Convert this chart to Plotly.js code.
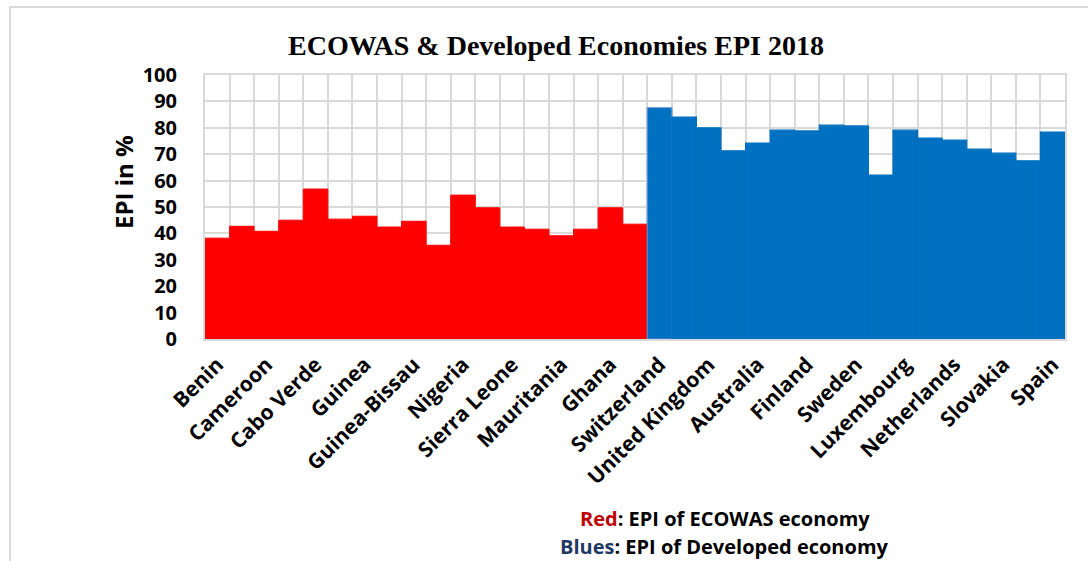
<!DOCTYPE html>
<html>
<head>
<meta charset="utf-8">
<script src="https://cdn.plot.ly/plotly-3.0.1.min.js"></script>
<style>
  html, body { margin: 0; padding: 0; background: #ffffff; }
  #wrap { position: relative; width: 1088px; height: 561px; overflow: hidden; }
  #chart { position: absolute; left: 0; top: 0; width: 1088px; height: 561px; }
  #frame { position: absolute; left: 9px; top: 6px; width: 1200px; height: 700px;
           border-top: 2px solid #d9d9d9; border-left: 2px solid #d9d9d9; pointer-events: none; }
</style>
</head>
<body>
<div id="wrap">
  <div id="chart"></div>
  <div id="frame"></div>
</div>
<script>
// ECOWAS economies (red) – tick labels appear on every other bar
const ecowasLabels = ["Benin", null, "Cameroon", null, "Cabo Verde", null, "Guinea", null,
  "Guinea-Bissau", null, "Nigeria", null, "Sierra Leone", null, "Mauritania", null, "Ghana", null];
const ecowasValues = [38.2, 42.7, 40.8, 45.0, 56.8, 45.4, 46.5, 42.4, 44.6, 35.5,
  54.5, 49.7, 42.4, 41.6, 39.1, 41.6, 49.7, 43.5];

// Developed economies (blue)
const developedLabels = ["Switzerland", null, "United Kingdom", null, "Australia", null, "Finland", null,
  "Sweden", null, "Luxembourg", null, "Netherlands", null, "Slovakia", null, "Spain"];
const developedValues = [87.6, 84.1, 80.0, 71.3, 74.2, 79.1, 78.8, 81.0, 80.7, 62.1,
  79.1, 76.1, 75.3, 71.9, 70.4, 67.5, 78.4];

const yTicks = [0, 10, 20, 30, 40, 50, 60, 70, 80, 90, 100];

const titleText = "ECOWAS & Developed Economies EPI 2018";
const yTitleText = "EPI in %";
const note1 = "<span style='color:#c00000'>Red</span>: EPI of ECOWAS economy";
const note2 = "<span style='color:#1f3864'>Blues</span>: EPI of Developed economy";

const allLabels = ecowasLabels.concat(developedLabels);
const ecoX = ecowasValues.map((v, i) => i);
const devX = developedValues.map((v, i) => i + ecowasValues.length);
const tickvals = [], ticktext = [];
allLabels.forEach((l, i) => { if (l !== null) { tickvals.push(i); ticktext.push(l); } });
const nBars = allLabels.length;

const RED = "#ff0000", BLUE = "#0070c0";
const devLineColor = developedValues.map((v, i) => i === 0 ? "#5b8fd0" : BLUE);

const traces = [
  {
    type: "bar", x: ecoX, y: ecowasValues, width: 1,
    marker: { color: RED, line: { width: 1, color: RED } },
    hoverinfo: "y", showlegend: false
  },
  {
    type: "bar", x: devX, y: developedValues, width: 1,
    marker: { color: BLUE, line: { width: 1.2, color: devLineColor } },
    hoverinfo: "y", showlegend: false
  }
];

const FONT = "'Open Sans', 'Noto Sans', sans-serif";
const yTickFont = { family: FONT, size: 20, color: "#000000", weight: 700 };
const xTickFont = { family: FONT, size: 21, color: "#000000", weight: 700 };

const layout = {
  width: 1088, height: 561,
  margin: { l: 205, r: 23, t: 75, b: 222, pad: 0 },
  paper_bgcolor: "rgba(0,0,0,0)", plot_bgcolor: "#ffffff",
  barmode: "overlay", bargap: 0,
  title: {
    text: titleText,
    font: { family: "'Liberation Serif', 'DejaVu Serif', serif", size: 28, color: "#000000", weight: 700 },
    x: 0.511, xref: "container", xanchor: "center",
    y: 1 - 45 / 561, yref: "container", yanchor: "middle"
  },
  xaxis: {
    range: [-0.5, nBars - 0.5],
    tickmode: "array", tickvals: tickvals, ticktext: ticktext,
    tickangle: -45, tickfont: xTickFont, ticks: "", ticklabelstandoff: 3,
    showgrid: false, zeroline: false,
    showline: true, mirror: true, linecolor: "#d9d9d9", linewidth: 2,
    minor: { tickmode: "linear", tick0: -0.5, dtick: 1, showgrid: true, gridcolor: "#d9d9d9", gridwidth: 2, ticks: "" },
    fixedrange: true
  },
  yaxis: {
    range: [0, 100],
    tickmode: "array", tickvals: yTicks, ticktext: yTicks.map(String),
    tickfont: yTickFont, ticks: "", ticklabelstandoff: 22,
    showgrid: true, gridcolor: "#d9d9d9", gridwidth: 2, zeroline: false,
    showline: true, mirror: true, linecolor: "#d9d9d9", linewidth: 2,
    fixedrange: true
  },
  annotations: [
    {
      text: yTitleText, textangle: -90, showarrow: false,
      xref: "paper", yref: "paper",
      x: (123 - 205) / 860, y: (339 - 182) / 264, xanchor: "center", yanchor: "middle",
      font: { family: FONT, size: 24, color: "#000000", weight: 700 }
    },
    {
      text: note1, showarrow: false, xref: "paper", yref: "paper",
      x: (725 - 205) / 860, y: (339 - 518) / 264, xanchor: "center", yanchor: "middle",
      font: { family: FONT, size: 20, color: "#000000", weight: 700 }
    },
    {
      text: note2, showarrow: false, xref: "paper", yref: "paper",
      x: (724 - 205) / 860, y: (339 - 546) / 264, xanchor: "center", yanchor: "middle",
      font: { family: FONT, size: 20, color: "#000000", weight: 700 }
    }
  ]
};

Plotly.newPlot("chart", traces, layout, { displayModeBar: false, staticPlot: true });
</script>
</body>
</html>
